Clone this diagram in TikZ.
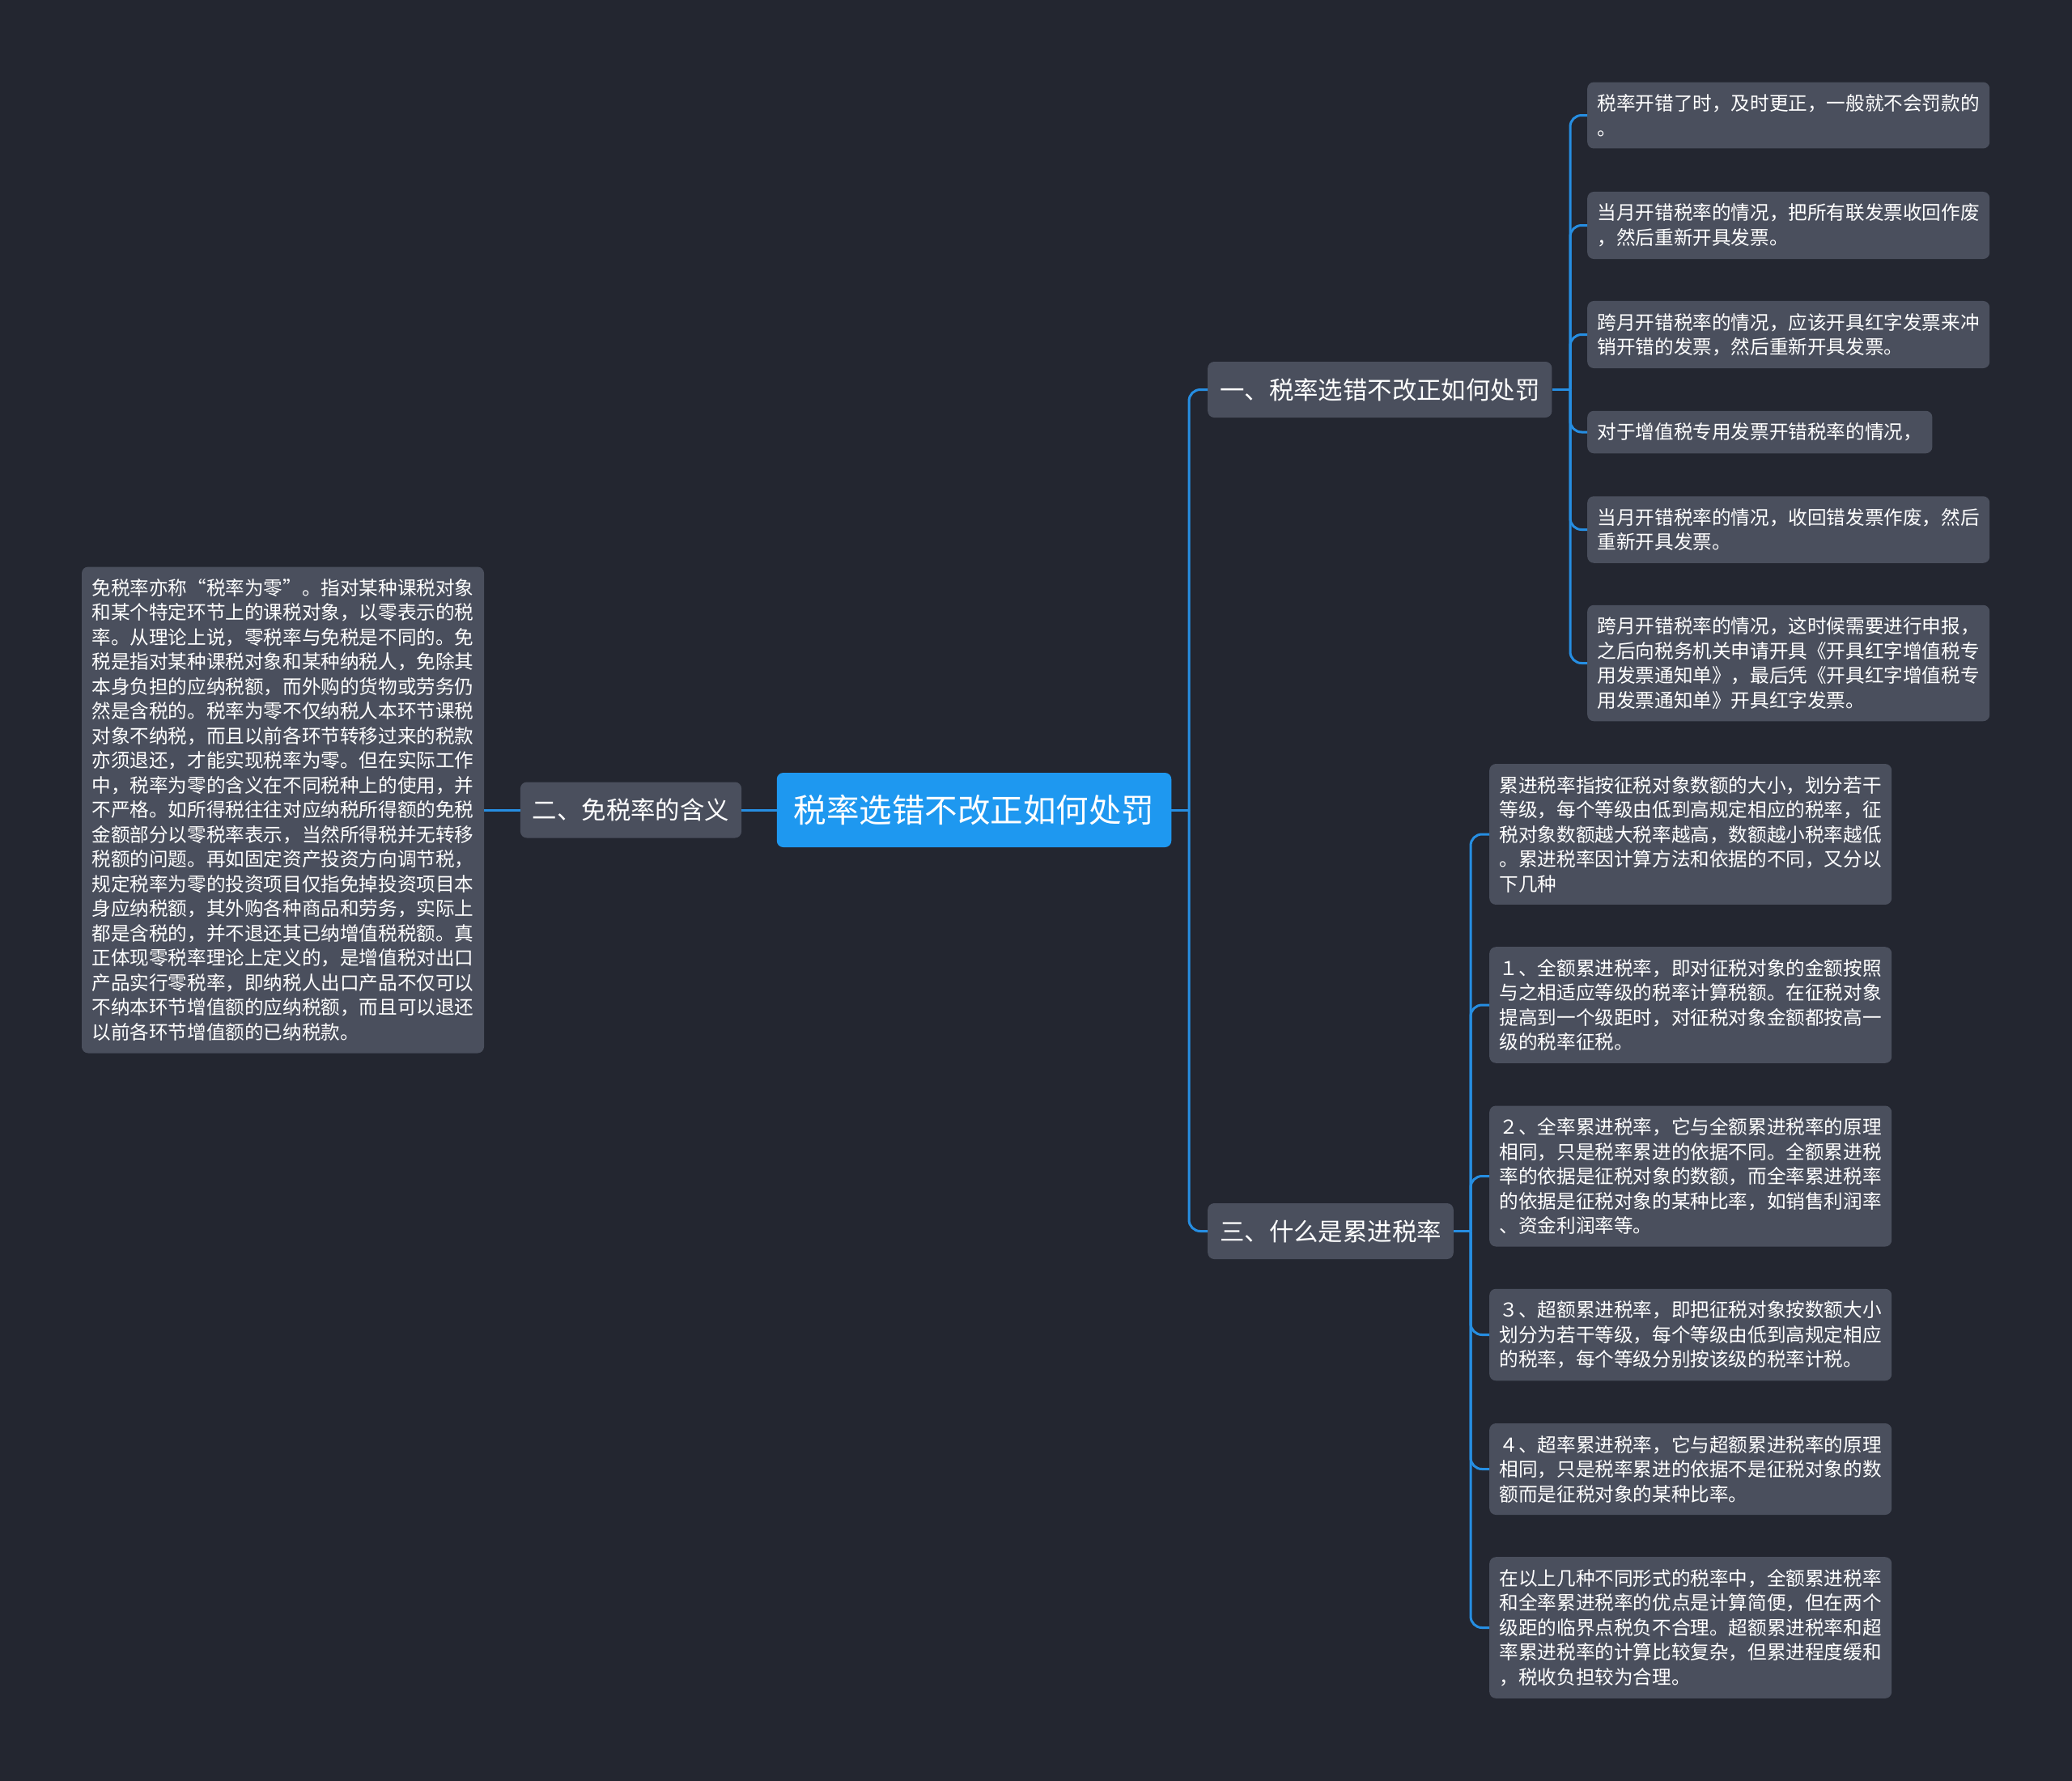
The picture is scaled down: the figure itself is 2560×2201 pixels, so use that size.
\documentclass[tikz,border=0pt]{standalone}
\usepackage{fontspec}
\setmainfont{Noto Sans CJK SC}
\definecolor{bgc}{RGB}{35,38,48}
\definecolor{nodegray}{RGB}{74,79,93}
\definecolor{rootblue}{RGB}{30,152,240}
\definecolor{lineblue}{RGB}{38,142,226}
\begin{document}
\begin{tikzpicture}[x=1pt,y=-1pt,
  leaf/.style={fill=nodegray, text=white, rounded corners=8pt, inner xsep=12.5pt, inner ysep=15pt, align=left, font=\fontsize{23.6}{30.5}\selectfont, anchor=west},
  sub/.style={fill=nodegray, text=white, rounded corners=8pt, inner xsep=15pt, minimum height=69pt, font=\fontsize{30.4}{36}\selectfont},
  rootn/.style={fill=rootblue, text=white, rounded corners=8pt, inner xsep=21pt, minimum height=92pt, font=\fontsize{40.5}{48}\selectfont},
  conn/.style={draw=lineblue, line width=3pt, rounded corners=14pt}]
\fill[bgc] (0,0) rectangle (2560,2201);
\useasboundingbox (0,0) rectangle (2560,2201);

% root and first level
\node[rootn] (root) at (1203.5,1001) {税率选错不改正如何处罚};
\node[sub] (n2) at (779.5,1001) {二、免税率的含义};
\node[sub, anchor=west] (n1) at (1492,481.5) {一、税率选错不改正如何处罚};
\node[sub, anchor=west] (n3) at (1492,1521.5) {三、什么是累进税率};

% left leaf
\node[leaf, anchor=center] (lf) at (349.5,1001) {免税率亦称“税率为零”。指对某种课税对象\\和某个特定环节上的课税对象，以零表示的税\\率。从理论上说，零税率与免税是不同的。免\\税是指对某种课税对象和某种纳税人，免除其\\本身负担的应纳税额，而外购的货物或劳务仍\\然是含税的。税率为零不仅纳税人本环节课税\\对象不纳税，而且以前各环节转移过来的税款\\亦须退还，才能实现税率为零。但在实际工作\\中，税率为零的含义在不同税种上的使用，并\\不严格。如所得税往往对应纳税所得额的免税\\金额部分以零税率表示，当然所得税并无转移\\税额的问题。再如固定资产投资方向调节税，\\规定税率为零的投资项目仅指免掉投资项目本\\身应纳税额，其外购各种商品和劳务，实际上\\都是含税的，并不退还其已纳增值税税额。真\\正体现零税率理论上定义的，是增值税对出口\\产品实行零税率，即纳税人出口产品不仅可以\\不纳本环节增值额的应纳税额，而且可以退还\\以前各环节增值额的已纳税款。};

% children of n1
\node[leaf] (a1) at (1961,142.5) {税率开错了时，及时更正，一般就不会罚款的\\。};
\node[leaf] (a2) at (1961,278.5) {当月开错税率的情况，把所有联发票收回作废\\，然后重新开具发票。};
\node[leaf] (a3) at (1961,413.5) {跨月开错税率的情况，应该开具红字发票来冲\\销开错的发票，然后重新开具发票。};
\node[leaf] (a4) at (1961,534) {对于增值税专用发票开错税率的情况，};
\node[leaf] (a5) at (1961,654.5) {当月开错税率的情况，收回错发票作废，然后\\重新开具发票。};
\node[leaf] (a6) at (1961,819.5) {跨月开错税率的情况，这时候需要进行申报，\\之后向税务机关申请开具《开具红字增值税专\\用发票通知单》，最后凭《开具红字增值税专\\用发票通知单》开具红字发票。};

% children of n3
\node[leaf] (b1) at (1840,1031) {累进税率指按征税对象数额的大小，划分若干\\等级，每个等级由低到高规定相应的税率，征\\税对象数额越大税率越高，数额越小税率越低\\。累进税率因计算方法和依据的不同，又分以\\下几种};
\node[leaf] (b2) at (1840,1242) {１、全额累进税率，即对征税对象的金额按照\\与之相适应等级的税率计算税额。在征税对象\\提高到一个级距时，对征税对象金额都按高一\\级的税率征税。};
\node[leaf] (b3) at (1840,1453.5) {２、全率累进税率，它与全额累进税率的原理\\相同，只是税率累进的依据不同。全额累进税\\率的依据是征税对象的数额，而全率累进税率\\的依据是征税对象的某种比率，如销售利润率\\、资金利润率等。};
\node[leaf] (b4) at (1840,1649.5) {３、超额累进税率，即把征税对象按数额大小\\划分为若干等级，每个等级由低到高规定相应\\的税率，每个等级分别按该级的税率计税。};
\node[leaf] (b5) at (1840,1815.5) {４、超率累进税率，它与超额累进税率的原理\\相同，只是税率累进的依据不是征税对象的数\\额而是征税对象的某种比率。};
\node[leaf] (b6) at (1840,2011.5) {在以上几种不同形式的税率中，全额累进税率\\和全率累进税率的优点是计算简便，但在两个\\级距的临界点税负不合理。超额累进税率和超\\率累进税率的计算比较复杂，但累进程度缓和\\，税收负担较为合理。};

% junctions
\coordinate (j0) at (1469,1001);
\coordinate (k1) at (1940,481.5);
\coordinate (k3) at (1817,1521.5);

% connectors
\draw[conn] (root.west) -- (n2.east);
\draw[conn] (n2.west) -- (lf.east);
\draw[conn] (root.east) -- (j0);
\draw[conn] (j0) |- (n1.west);
\draw[conn] (j0) |- (n3.west);
\draw[conn] (n1.east) -- (k1);
\foreach \c in {a1,a2,a3,a4,a5,a6} {\draw[conn] (k1) |- (\c.west);}
\draw[conn] (n3.east) -- (k3);
\foreach \c in {b1,b2,b3,b4,b5,b6} {\draw[conn] (k3) |- (\c.west);}
\end{tikzpicture}
\end{document}
